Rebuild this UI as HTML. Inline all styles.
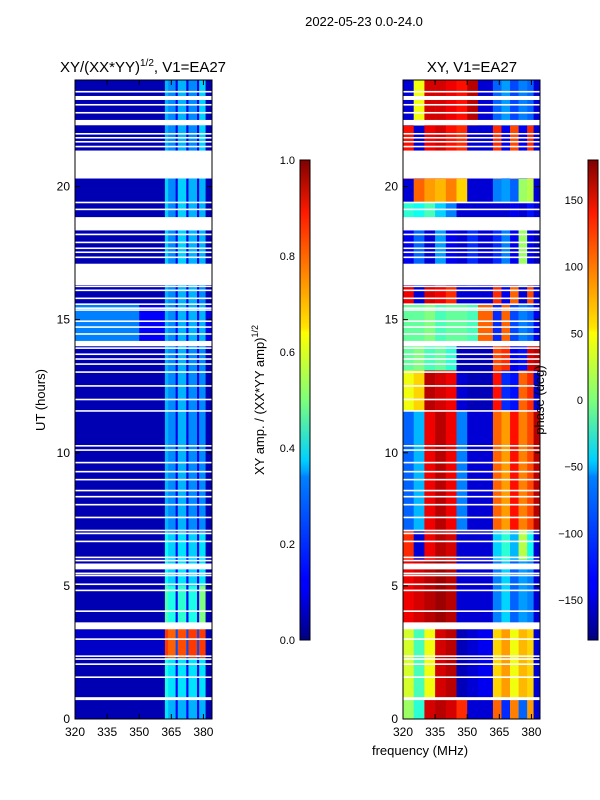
<!DOCTYPE html>
<html><head><meta charset="utf-8"><style>
html,body{margin:0;padding:0;background:#fff;}
svg{display:block;font-family:"Liberation Sans","DejaVu Sans",sans-serif;}
</style></head><body>
<svg id="fig" width="600" height="800" viewBox="0 0 600 800" xmlns="http://www.w3.org/2000/svg">
<defs>
<linearGradient id="jetgrad" x1="0" y1="1" x2="0" y2="0">
<stop offset="0" stop-color="#000080"/><stop offset="0.11" stop-color="#0000ff"/><stop offset="0.125" stop-color="#0000ff"/>
<stop offset="0.34" stop-color="#0080ff"/><stop offset="0.35" stop-color="#00a0ff"/><stop offset="0.375" stop-color="#00d0ff"/>
<stop offset="0.5" stop-color="#7dff7a"/><stop offset="0.64" stop-color="#ffff00"/><stop offset="0.65" stop-color="#ffe600"/>
<stop offset="0.89" stop-color="#ff1a00"/><stop offset="1" stop-color="#800000"/>
</linearGradient>
</defs>
<text x="364" y="26" font-size="13" text-anchor="middle">2022-05-23 0.0-24.0</text>
<text x="143" y="72" font-size="15" text-anchor="middle">XY/(XX*YY)<tspan font-size="10" dy="-6">1/2</tspan><tspan dy="6">, V1=EA27</tspan></text>
<text x="472" y="72" font-size="15" text-anchor="middle">XY, V1=EA27</text>
<g id="leftPanel"></g>
<g id="rightPanel"></g>
<g id="axes"></g>
<text x="0" y="0" font-size="13" text-anchor="middle" transform="translate(45,400) rotate(-90)">UT (hours)</text>
<text x="420" y="755" font-size="13" text-anchor="middle">frequency (MHz)</text>
<rect x="300" y="160" width="10" height="480" fill="url(#jetgrad)" stroke="#000" stroke-width="1"/>
<rect x="588" y="160" width="10" height="480" fill="url(#jetgrad)" stroke="#000" stroke-width="1"/>
<text x="0" y="0" font-size="13" text-anchor="middle" transform="translate(264,400) rotate(-90)">XY amp. / (XX*YY amp)<tspan font-size="9" dy="-6">1/2</tspan></text>
<text x="0" y="0" font-size="13" text-anchor="middle" transform="translate(544,400) rotate(-90)">phase (deg)</text>
</svg>
<script>
// ---- data ----
var ampFreqEdges = [320,350,362,363.5,367,368,372,373,377,378,381,384];
var ampTimeEdges = [0,0.75,2.3,3.4,5.0,7.0,12,14.2,15.6,16.3,20.3,24];
var ampValues = [
 [0.05,0.05,0.35,0.3,0.12,0.3,0.12,0.3,0.12,0.3,0.05],
 [0.05,0.05,0.4,0.35,0.12,0.35,0.12,0.35,0.12,0.35,0.05],
 [0.07,0.07,0.82,0.78,0.2,0.8,0.2,0.82,0.2,0.82,0.05],
 [0.05,0.05,0.45,0.4,0.12,0.42,0.12,0.4,0.12,0.5,0.05],
 [0.05,0.05,0.38,0.33,0.12,0.35,0.12,0.33,0.12,0.35,0.05],
 [0.05,0.05,0.3,0.26,0.1,0.3,0.1,0.26,0.1,0.26,0.05],
 [0.05,0.05,0.3,0.26,0.1,0.3,0.1,0.26,0.1,0.26,0.05],
 [0.25,0.12,0.3,0.26,0.12,0.3,0.12,0.3,0.12,0.3,0.1],
 [0.05,0.05,0.3,0.26,0.1,0.3,0.1,0.3,0.1,0.26,0.05],
 [0.05,0.05,0.33,0.26,0.1,0.33,0.1,0.3,0.1,0.3,0.05],
 [0.05,0.05,0.3,0.26,0.1,0.3,0.1,0.26,0.1,0.33,0.05]
];
var phaseFreqEdges = [320,325,330,335,340,345,350,355,362,366,370,374,378,381,384];
var phaseTimeEdges = [0,0.75,3.4,6.0,7.1,11.6,13.1,14.1,15.6,16.3,18.4,19.4,20.3,22.3,24];
var phaseValues = [
 [10,-30,150,160,150,120,-150,-150,100,-120,90,-100,80,-150],
 [30,-20,40,150,160,-160,-150,-140,60,80,40,70,60,-150],
 [140,150,160,170,160,-150,-150,-150,-90,-60,-100,-80,-90,-150],
 [120,-150,140,160,150,-150,-150,-150,-60,-30,-70,20,-40,-150],
 [-100,-70,140,160,140,-90,-150,-150,100,80,130,90,110,160],
 [40,60,160,150,140,-150,-160,-160,130,-120,-130,100,120,-150],
 [-10,0,-20,-10,-30,-160,-160,-160,110,120,-140,-130,150,160],
 [-10,-10,0,-20,-10,-10,-20,100,-120,100,-110,-90,-100,-140],
 [140,-150,150,140,120,-150,-150,-150,120,-140,100,-150,110,-150],
 [-140,-100,-150,-80,-140,-150,-120,-150,-120,-90,-140,10,-140,-160],
 [-30,-40,-20,-60,-90,-150,-150,-150,-150,-150,-140,-150,-130,-150],
 [-150,100,80,70,90,60,-150,-150,-90,-80,-100,10,20,-150],
 [130,-150,140,150,130,120,-150,-150,120,-140,110,-140,120,-150],
 [-150,40,150,150,140,130,160,-150,-100,-80,-110,-90,-100,-150]
];
var gapStarts = [0.71,3.37,5.62,14.0,16.3,18.35,20.3,22.3,23.25];
var gapEnds   = [0.82,3.63,5.84,14.2,17.1,18.85,21.35,22.5,23.4];
var lineHours = [1.57,2.06,2.25,2.36,3.0,4.05,4.83,5.06,5.39,5.47,5.95,6.07,6.67,6.97,7.08,7.57,8.05,8.35,8.58,8.99,9.29,9.63,10.1,10.26,11.57,12.0,12.51,13.03,13.33,13.52,13.7,13.93,14.46,14.72,14.94,15.36,15.43,15.58,15.8,16.1,16.25,17.34,17.53,17.68,17.9,18.2,19.14,19.4,21.5,21.68,21.83,21.98,22.77,23.07,23.56];
var timeTicks = [0,5,10,15,20];
var freqTicks = [320,335,350,365,380];
var ampTicks = [0.0,0.2,0.4,0.6,0.8,1.0];
var phaseTicks = [-150,-100,-50,0,50,100,150];

// ---- scales ----
var NS="http://www.w3.org/2000/svg";
var panelY0=80, panelY1=719, panelW=137;
function yScale(h){ return panelY1 - (h/24)*(panelY1-panelY0); }
function xScale(f, x0){ return x0 + (f-320)*(panelW/(384-320)); }
function cbY(v, lo, hi){ return 640 - (v-lo)/(hi-lo)*480; }
function jet(t){
  t=Math.max(0,Math.min(1,t));
  function c(x){return Math.round(255*Math.max(0,Math.min(1,x)));}
  var r=1.5-Math.abs(4*t-3), g=1.5-Math.abs(4*t-2), b=1.5-Math.abs(4*t-1);
  return "rgb("+c(r)+","+c(g)+","+c(b)+")";
}
function mk(tag, attrs, parent){
  var e=document.createElementNS(NS,tag);
  for(var k in attrs) e.setAttribute(k, attrs[k]);
  parent.appendChild(e); return e;
}
var left=document.getElementById('leftPanel'), right=document.getElementById('rightPanel'), axes=document.getElementById('axes');
var LX=75, RX=403;

function drawHeat(g, x0, fEdges, tEdges, vals, norm, name){
  for(var i=0;i<tEdges.length-1;i++){
    for(var j=0;j<fEdges.length-1;j++){
      var xa=xScale(fEdges[j],x0), xb=xScale(fEdges[j+1],x0);
      var ya=yScale(tEdges[i+1]), yb=yScale(tEdges[i]);
      var r=mk('rect',{x:xa,y:ya,width:xb-xa+0.3,height:yb-ya+0.3,fill:jet(norm(vals[i][j]))},g);
      
      
    }
  }
  for(var k=0;k<gapStarts.length;k++){
    var gr=mk('rect',{x:x0,y:yScale(gapEnds[k]),width:panelW,height:yScale(gapStarts[k])-yScale(gapEnds[k]),fill:'#fff'},g);
    
    
  }
  for(var m=0;m<lineHours.length;m++){
    var ln=mk('rect',{x:x0,y:yScale(lineHours[m])-0.8,width:panelW,height:1.6,fill:'#fff'},g);
    
    
  }
}
drawHeat(left, LX, ampFreqEdges, ampTimeEdges, ampValues, function(v){return v;}, 'amplitude-cell');
drawHeat(right, RX, phaseFreqEdges, phaseTimeEdges, phaseValues, function(v){return (v+180)/360;}, 'phase-cell');

function drawAxes(x0, showY, nm){
  var fr=mk('rect',{x:x0,y:panelY0,width:panelW,height:panelY1-panelY0,fill:'none',stroke:'#000','stroke-width':1},axes);
  
  
  timeTicks.forEach(function(t){
    var y=yScale(t);
    mk('line',{x1:x0,x2:x0+5,y1:y,y2:y,stroke:'#000'},axes);
    mk('line',{x1:x0+panelW,x2:x0+panelW-5,y1:y,y2:y,stroke:'#000'},axes);
    var tx=mk('text',{x:x0-5,y:y+4,'font-size':12,'text-anchor':'end'},axes);
    tx.textContent=t;
    
    
  });
  freqTicks.forEach(function(f){
    var x=xScale(f,x0);
    mk('line',{x1:x,x2:x,y1:panelY1,y2:panelY1-5,stroke:'#000'},axes);
    mk('line',{x1:x,x2:x,y1:panelY0,y2:panelY0+5,stroke:'#000'},axes);
    var tx=mk('text',{x:x,y:736,'font-size':12,'text-anchor':'middle'},axes);
    tx.textContent=f;
    
    
  });
}
drawAxes(LX,true,'left-panel');
drawAxes(RX,true,'right-panel');

ampTicks.forEach(function(v){
  var y=cbY(v,0,1);
  mk('line',{x1:300,x2:304,y1:y,y2:y,stroke:'#000'},axes);
  mk('line',{x1:310,x2:306,y1:y,y2:y,stroke:'#000'},axes);
  var tx=mk('text',{x:295,y:y+4,'font-size':11,'text-anchor':'end'},axes);
  tx.textContent=v.toFixed(1);
  
  
});
phaseTicks.forEach(function(v){
  var y=cbY(v,-180,180);
  mk('line',{x1:588,x2:592,y1:y,y2:y,stroke:'#000'},axes);
  mk('line',{x1:598,x2:594,y1:y,y2:y,stroke:'#000'},axes);
  var tx=mk('text',{x:583,y:y+4,'font-size':11,'text-anchor':'end'},axes);
  tx.textContent=(v<0?'\u2212'+Math.abs(v):v);
  
  
});
</script>
</body></html>
